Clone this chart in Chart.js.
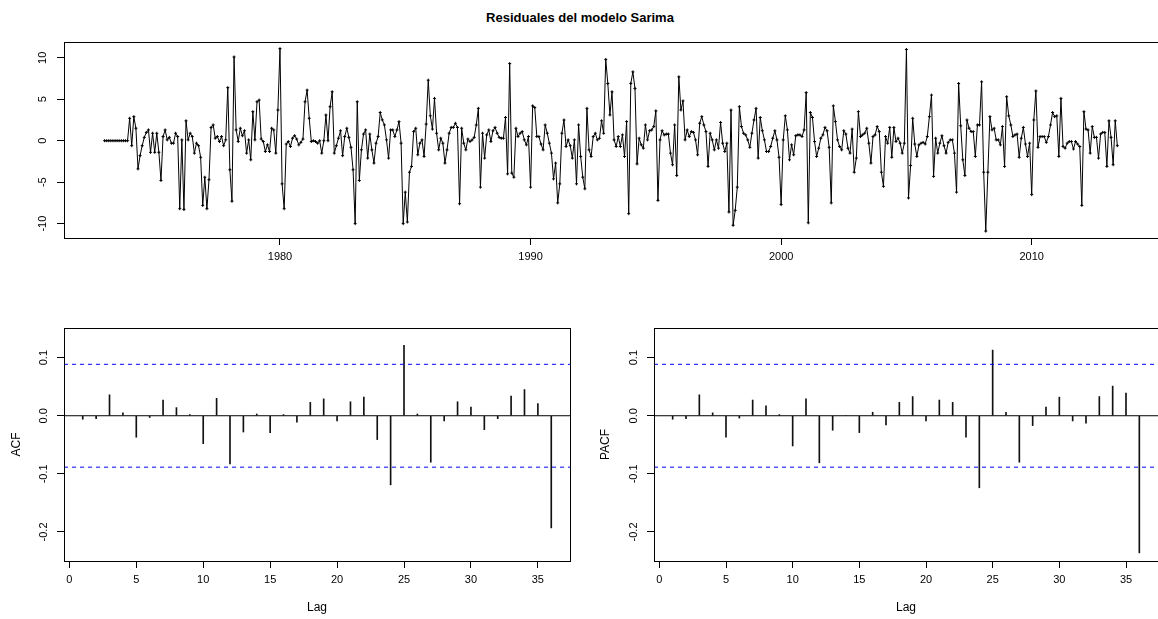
<!DOCTYPE html>
<html>
<head>
<meta charset="utf-8">
<script src="https://cdn.jsdelivr.net/npm/chart.js@4.4.0/dist/chart.umd.min.js"></script>
<style>
  html, body { margin: 0; padding: 0; width: 1158px; height: 619px; overflow: hidden; background: #fff; }
  #title { position: absolute; left: 0; top: 10px; width: 1160px; text-align: center;
           font: bold 13px "Liberation Sans", Arial, sans-serif; color: #000; }
  canvas { position: absolute; }
</style>
</head>
<body>
<div id="title">Residuales del modelo Sarima</div>
<canvas id="resChart" width="1190" height="280" style="left:0px;top:0px"></canvas>
<canvas id="acfChart" width="580" height="319" style="left:0px;top:300px"></canvas>
<canvas id="pacfChart" width="610" height="319" style="left:580px;top:300px"></canvas>
<script>
// monthly residuals, first obs Jan 1973
const startYear = 1973;
const freq = 12;
const residuals = [
  0, 0, 0, 0, 0, 0, 0, 0, 0, 0, 0, 0,
  2.7, -0.6, 2.9, 1.5, -3.4, -1.8, -0.6, 0.4, 1.0, 1.3, -1.4, 0.9,
  -1.4, 0.9, -1.4, -4.8, 0.5, 1.3, 0.1, 0.4, -0.3, -0.3, 0.9, 0.5,
  -8.2, 0.1, -8.3, 2.4, 0.1, 0.9, 0.5, -1.5, -0.3, -0.6, -2.0, -7.8,
  -4.4, -8.2, -4.7, 1.6, 1.9, 0.3, 0.5, -0.1, 0.5, -0.6, 0.1, 6.4,
  -3.5, -7.3, 10.1, 1.3, -0.1, 1.5, 0.6, 1.2, -1.5, 0.1, -2.3, 3.5,
  0.1, 4.7, 4.9, 0.2, -0.1, -1.3, -0.5, -1.3, 1.5, 1.3, -1.5, 3.7,
  11.1, -5.2, -8.2, -0.4, -0.1, -0.7, 0.3, 0.6, 0.2, -0.5, -0.2, 0.2,
  4.7, 6.1, 2.7, -0.1, 0.0, -0.1, -0.3, 0.0, -1.5, 0.0, 3.1, 0.0,
  4.1, 5.9, -1.5, -0.6, 0.3, 1.2, -1.8, 0.5, 1.5, 0.4, -0.8, -3.5,
  -10.0, 4.7, -4.8, -1.1, 0.8, 1.3, -2.1, 0.8, -1.1, -2.7, -0.3, 0.5,
  3.4, 2.5, 1.9, 0.1, -2.1, 1.3, 1.3, 0.5, 1.3, 2.3, -0.3, -10.0,
  -6.2, -9.8, -3.8, -3.1, 1.1, 1.5, -1.7, -0.3, 0.1, -1.9, 2.0, 7.3,
  3.0, 1.4, 5.1, 0.9, -1.1, 0.3, -0.3, -2.7, -1.1, 0.9, 1.6, 1.6,
  2.1, 1.6, -7.6, 1.5, -0.3, -1.1, 0.2, -0.1, 0.1, 0.4, 1.9, 3.9,
  -5.6, 0.9, -2.1, 0.7, 1.3, -0.1, 1.2, 1.6, 0.9, 0.4, 0.3, 0.3,
  2.8, -4.0, 9.3, -3.9, -4.4, 1.5, 0.5, 0.9, 1.1, 0.1, -0.5, 0.5,
  -5.6, 4.2, 4.0, 0.5, 0.5, -0.4, -1.1, 1.9, 0.9, -0.3, -1.5, -4.6,
  -2.7, -7.5, -5.2, 0.9, 2.5, -0.7, 0.1, -0.6, -2.1, 0.1, -5.2, 1.9,
  -1.9, -4.4, -5.8, 3.9, -1.1, -1.9, 0.5, 0.9, 0.1, 0.3, 2.4, 0.9,
  9.8, 6.9, 3.1, 5.9, 0.1, -0.7, 0.5, -0.7, 0.7, -1.9, 2.3, -8.8,
  6.9, 8.3, 6.3, -2.8, 0.3, -0.5, -0.9, 1.9, 0.1, 1.2, 1.3, 1.7,
  3.6, -7.2, 0.1, 1.2, 0.7, 0.8, 0.8, -1.5, -2.9, 1.9, -4.2, 7.7,
  3.7, 4.8, 0.1, 1.3, 0.5, 1.1, 1.0, 0.1, -1.7, 2.1, 2.9, 1.9,
  1.1, -3.1, 0.9, 0.1, -1.1, 0.1, -0.9, 2.2, -0.3, -1.3, -0.3, -8.6,
  3.7, -10.2, -8.4, -5.6, 4.1, 1.7, 0.9, 0.7, 0.1, -0.8, 0.9, 2.5,
  3.9, -2.1, 2.8, 1.2, 0.1, -1.3, -1.3, -0.7, 0.3, 1.2, 0.1, -2.0,
  -7.7, 0.1, 3.0, 1.3, -2.3, -0.5, -1.7, 0.6, 0.7, 0.7, 0.5, 1.3,
  5.8, -9.9, 3.4, 2.8, -0.1, -1.9, -0.9, 0.3, 0.7, 1.6, 1.2, -0.8,
  -7.5, 4.2, 2.3, 0.1, -0.7, -1.1, 1.2, 0.8, -0.9, -1.5, 1.4, -3.8,
  -2.1, 3.5, 0.5, 0.7, 0.9, 1.5, -0.3, -2.7, 0.5, 0.7, 1.7, 1.1,
  -3.8, -5.5, 0.5, -0.3, 1.6, -2.0, 1.6, -0.1, 0.3, -0.3, -1.5, -0.3,
  11.0, -6.9, -3.0, 2.7, -0.4, -1.9, -0.5, -0.3, -0.2, -0.4, 0.5, 2.9,
  5.5, -4.3, 0.3, -1.5, -0.3, 0.6, -0.6, -1.5, -0.2, 0.1, 0.1, -1.5,
  -6.2, 6.9, 1.8, -2.3, -4.2, 2.5, 1.5, 1.1, 1.1, -1.9, 1.9, 1.9,
  7.1, -3.8, -10.9, -3.8, 2.9, 1.3, 1.5, 0.1, 0.1, -0.5, 1.7, -3.1,
  5.3, 3.0, 1.9, 0.5, 0.7, 0.8, -2.0, 0.3, 1.6, -0.4, -1.9, -0.3,
  -6.5, 2.5, 6.0, -0.8, 0.5, 0.5, 0.5, -0.2, 0.5, 1.9, 3.4, 2.9,
  3.0, -1.9, 5.1, -0.7, -0.9, -0.3, -0.1, -0.1, -1.0, -0.1, -0.4, -0.7,
  -7.8, 3.5, 1.4, 1.3, -1.5, 1.7, 0.4, 0.4, -2.1, 0.8, 1.0, 1.0,
  -3.1, 2.4, 0.4, -2.9, 2.4, -0.6
];
const yearTicks = [1980, 1990, 2000, 2010];
const resTicks = [-10, -5, 0, 5, 10];

const lags = [1, 2, 3, 4, 5, 6, 7, 8, 9, 10, 11, 12, 13, 14, 15, 16, 17, 18,
              19, 20, 21, 22, 23, 24, 25, 26, 27, 28, 29, 30, 31, 32, 33, 34, 35, 36];
const acfValues = [-0.006, -0.005, 0.036, 0.005, -0.037, -0.003, 0.027, 0.014, 0.002, -0.048, 0.030, -0.083,
                   -0.028, 0.003, -0.029, 0.002, -0.011, 0.023, 0.029, -0.009, 0.024, 0.032, -0.041, -0.119,
                   0.121, 0.003, -0.080, -0.009, 0.024, 0.015, -0.024, -0.005, 0.034, 0.045, 0.021, -0.193];
const pacfValues = [-0.006, -0.005, 0.036, 0.005, -0.037, -0.004, 0.027, 0.017, 0.002, -0.052, 0.029, -0.081,
                    -0.025, 0.000, -0.029, 0.006, -0.016, 0.023, 0.033, -0.009, 0.027, 0.023, -0.037, -0.124,
                    0.113, 0.006, -0.080, -0.017, 0.015, 0.032, -0.009, -0.013, 0.033, 0.051, 0.039, -0.236];
const ciLevel = 0.0885;
const lagRange = [-0.4, 37.4];
const lagTicks = [0, 5, 10, 15, 20, 25, 30, 35];
const corrTicks = [-0.2, -0.1, 0.0, 0.1];

Chart.defaults.font.family = '"Liberation Sans", Arial, sans-serif';
Chart.defaults.font.size = 11;
Chart.defaults.color = '#000';

// R style box round the plot region
const boxPlugin = {
  id: 'box',
  afterDraw(chart) {
    const a = chart.chartArea, ctx = chart.ctx;
    ctx.save();
    ctx.strokeStyle = '#000';
    ctx.lineWidth = 1;
    ctx.strokeRect(Math.round(a.left) + 0.5, Math.round(a.top) + 0.5,
                   Math.round(a.right - a.left), Math.round(a.bottom - a.top));
    ctx.restore();
  }
};

const tickGrid = () => ({ drawOnChartArea: false, drawTicks: true, tickLength: 7, color: '#000', offset: false });

new Chart(document.getElementById('resChart'), {
  type: 'line',
  data: {
    datasets: [{
      data: residuals.map((v, i) => ({ x: startYear + i / freq, y: v })),
      borderColor: '#000',
      borderWidth: 1,
      pointStyle: 'cross',
      pointRadius: 1.5,
      pointBorderWidth: 1,
      pointBorderColor: '#000',
      tension: 0
    }]
  },
  options: {
    responsive: false,
    devicePixelRatio: 1,
    animation: false,
    events: [],
    layout: { padding: { top: 42, right: 32, left: 0, bottom: 0 } },
    plugins: { legend: { display: false }, tooltip: { enabled: false } },
    scales: {
      x: {
        type: 'linear', min: 1971.38, max: 2015.04,
        afterBuildTicks: s => { s.ticks = yearTicks.map(v => ({ value: v })); },
        afterFit: s => { s.height = 42; },
        grid: tickGrid(), border: { display: false },
        ticks: { autoSkip: false, maxRotation: 0, padding: 5, callback: v => String(v) }
      },
      y: {
        min: -11.73, max: 11.9,
        afterBuildTicks: s => { s.ticks = resTicks.map(v => ({ value: v })); },
        afterFit: s => { s.width = 64; },
        grid: tickGrid(), border: { display: false },
        ticks: { autoSkip: false, minRotation: 90, maxRotation: 90, crossAlign: 'center', padding: 6,
                 callback: v => String(v) }
      }
    }
  },
  plugins: [boxPlugin]
});

function hLine(v, color, dash, order) {
  return {
    type: 'line',
    data: lagRange.map(x => ({ x, y: v })),
    borderColor: color,
    borderWidth: 1,
    borderDash: dash,
    pointRadius: 0,
    order
  };
}

function corrChart(id, values, label, axisWidth, titlePad, rightPad) {
  return new Chart(document.getElementById(id), {
    type: 'bar',
    data: {
      datasets: [
        {
          type: 'bar',
          data: lags.map((l, i) => ({ x: l, y: values[i] })),
          backgroundColor: '#111',
          borderWidth: 0,
          barThickness: 1,
          order: 1
        },
        hLine(0, '#000', [], 2),
        hLine(ciLevel, '#0000ff', [4, 4], 0),
        hLine(-ciLevel, '#0000ff', [4, 4], 0)
      ]
    },
    options: {
      responsive: false,
      devicePixelRatio: 1,
      animation: false,
      events: [],
      layout: { padding: { top: 28, right: rightPad, left: 0, bottom: 0 } },
      plugins: { legend: { display: false }, tooltip: { enabled: false } },
      scales: {
        x: {
          type: 'linear', min: lagRange[0], max: lagRange[1], offset: false,
          afterBuildTicks: s => { s.ticks = lagTicks.map(v => ({ value: v })); },
          afterFit: s => { s.height = 58; },
          grid: tickGrid(), border: { display: false },
          ticks: { autoSkip: false, maxRotation: 0, padding: 5 },
          title: { display: true, text: 'Lag', font: { size: 12 }, padding: { top: 0, bottom: 3.8 } }
        },
        y: {
          min: -0.25, max: 0.151,
          afterBuildTicks: s => { s.ticks = corrTicks.map(v => ({ value: v })); },
          afterFit: s => { s.width = axisWidth; },
          grid: tickGrid(), border: { display: false },
          ticks: { autoSkip: false, minRotation: 90, maxRotation: 90, crossAlign: 'center', padding: 4,
                   callback: v => v.toFixed(1) },
          title: { display: true, text: label, font: { size: 12 }, padding: { top: titlePad, bottom: 0 } }
        }
      }
    },
    plugins: [boxPlugin]
  });
}

corrChart('acfChart', acfValues, 'ACF', 64, 9.5, 10);
corrChart('pacfChart', pacfValues, 'PACF', 74, 18.6, 32);
</script>
</body>
</html>
